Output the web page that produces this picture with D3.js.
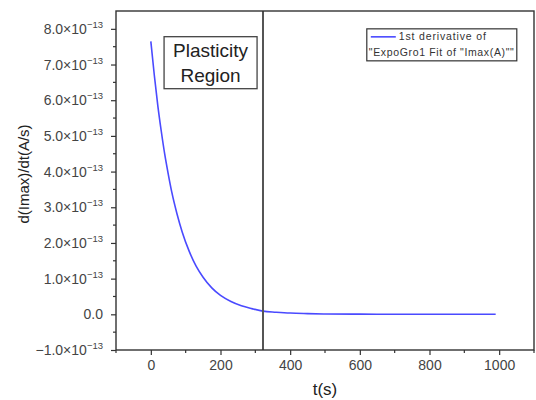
<!DOCTYPE html>
<html>
<head>
<meta charset="utf-8">
<script src="https://cdn.jsdelivr.net/npm/d3@7/dist/d3.min.js"></script>
<style>
  body { margin: 0; background: #fff; }
  text { font-family: "Liberation Sans", Arial, sans-serif; }
</style>
</head>
<body>
<div id="chart"></div>
<script>
// values (y in units of 1e-13 A/s)
const tValues = [0, 10, 20, 30, 40, 50, 60, 75, 90, 110, 130, 150, 175, 200, 230, 260, 290, 322, 360, 400, 450, 500, 600, 700, 800, 900, 990];
const dValues = [7.65, 6.70, 5.85, 5.13, 4.48, 3.93, 3.43, 2.82, 2.31, 1.77, 1.35, 1.04, 0.74, 0.53, 0.36, 0.24, 0.16, 0.09, 0.06, 0.035, 0.02, 0.01, 0.004, 0.002, 0.001, 0, 0];
const xTicks = [0, 200, 400, 600, 800, 1000];
const yTicks = [-1, 0, 1, 2, 3, 4, 5, 6, 7, 8];
const boundaryT = 322;
const legendLines = ["1st derivative of", "\"ExpoGro1 Fit of \"Imax(A)\"\""];

const margin = { top: 11, right: 2, bottom: 50, left: 116 };
const width = 536 - margin.left - margin.right;
const height = 400 - margin.top - margin.bottom;

const svg = d3.select("#chart")
  .append("svg")
  .attr("width", 536)
  .attr("height", 400);

const g = svg.append("g")
  .attr("transform", `translate(${margin.left},${margin.top})`);

const x = d3.scaleLinear().domain([-100, 1100]).range([0, width]);
const y = d3.scaleLinear().domain([-1, 8.5]).range([height, 0]);

// Axes: major + minor ticks
const tickColor = "#333";
const xMinor = d3.range(-100, 1101, 100).filter(v => !xTicks.includes(v));
const yMinor = d3.range(-0.5, 8.5, 1);

const xAxis = g.append("g")
  .attr("transform", `translate(0,${height})`)
  .call(d3.axisBottom(x).tickValues(xTicks).tickSize(5).tickPadding(5).tickFormat(d3.format("d")));
xAxis.select(".domain").remove();
xAxis.selectAll("line").attr("stroke", tickColor).attr("stroke-width", 1.2);
xAxis.selectAll("text").attr("font-size", 14).attr("fill", "#444")
  .attr("font-family", "Liberation Sans, Arial, sans-serif");

g.append("g")
  .selectAll("line")
  .data(xMinor)
  .enter()
  .append("line")
  .attr("x1", d => x(d)).attr("x2", d => x(d))
  .attr("y1", height).attr("y2", height + 3)
  .attr("stroke", tickColor).attr("stroke-width", 1.2);

const yAxis = g.append("g")
  .call(d3.axisLeft(y).tickValues(yTicks).tickSize(5).tickFormat(""));
yAxis.select(".domain").remove();
yAxis.selectAll("line").attr("stroke", tickColor).attr("stroke-width", 1.2);

g.append("g")
  .selectAll("line")
  .data(yMinor)
  .enter()
  .append("line")
  .attr("x1", -3).attr("x2", 0)
  .attr("y1", d => y(d)).attr("y2", d => y(d))
  .attr("stroke", tickColor).attr("stroke-width", 1.2);

// y tick labels in Origin style: 8.0x10^-13
const yLab = g.append("g")
  .selectAll("text")
  .data(yTicks)
  .enter()
  .append("text")
  .attr("x", -13)
  .attr("y", d => y(d) + 5)
  .attr("text-anchor", "end")
  .attr("font-size", 14)
  .attr("fill", "#444");

yLab.each(function(d) {
  const t = d3.select(this);
  if (d === 0) {
    t.text("0.0");
    return;
  }
  t.append("tspan").text(d3.format(".1f")(d).replace("-", "\u2212") + "\u00d710");
  t.append("tspan").attr("font-size", 9.5).attr("dy", -6).text("\u221213");
});

// Curve
const points = tValues.map((t, i) => ({ t, v: dValues[i] }));
const line = d3.line()
  .x(d => x(d.t))
  .y(d => y(d.v))
  .curve(d3.curveMonotoneX);

g.append("path")
  .datum(points)
  .attr("fill", "none")
  .attr("stroke", "#4a4aff")
  .attr("stroke-width", 1.6)
  .attr("d", line);

// Boundary line of the plasticity region
g.append("line")
  .attr("x1", x(boundaryT)).attr("x2", x(boundaryT))
  .attr("y1", 0).attr("y2", height)
  .attr("stroke", "#555")
  .attr("stroke-width", 2);

// Frame
g.append("rect")
  .attr("width", width)
  .attr("height", height)
  .attr("fill", "none")
  .attr("stroke", tickColor)
  .attr("stroke-width", 1.4);

// "Plasticity Region" box
const box = g.append("g").attr("transform", `translate(${x(38)},${y(7.78)})`);
box.append("rect")
  .attr("width", 93).attr("height", 52)
  .attr("fill", "#fff")
  .attr("stroke", "#444")
  .attr("stroke-width", 1.3);
box.append("text")
  .attr("x", 46.5).attr("y", 20)
  .attr("text-anchor", "middle")
  .attr("font-size", 19)
  .attr("fill", "#222")
  .text("Plasticity");
box.append("text")
  .attr("x", 46.5).attr("y", 45)
  .attr("text-anchor", "middle")
  .attr("font-size", 19)
  .attr("fill", "#222")
  .text("Region");

// Legend
const legend = g.append("g").attr("transform", `translate(${x(620)},${y(8.0)})`);
legend.append("rect")
  .attr("width", 150).attr("height", 32)
  .attr("fill", "#fff")
  .attr("stroke", "#333")
  .attr("stroke-width", 1.2);
legend.append("line")
  .attr("x1", 4).attr("x2", 29)
  .attr("y1", 8).attr("y2", 8)
  .attr("stroke", "#4a4aff")
  .attr("stroke-width", 1.6);
legend.append("text")
  .attr("x", 32).attr("y", 11.5)
  .attr("font-size", 10.5)
  .attr("fill", "#333")
  .attr("textLength", 87)
  .text(legendLines[0]);
legend.append("text")
  .attr("x", 2).attr("y", 27)
  .attr("font-size", 10.5)
  .attr("fill", "#333")
  .attr("textLength", 145)
  .text(legendLines[1]);

// Axis titles
svg.append("text")
  .attr("x", margin.left + width / 2)
  .attr("y", 395)
  .attr("text-anchor", "middle")
  .attr("font-size", 17)
  .attr("fill", "#222")
  .text("t(s)");

svg.append("text")
  .attr("transform", "translate(29,174) rotate(-90)")
  .attr("text-anchor", "middle")
  .attr("font-size", 15)
  .attr("fill", "#222")
  .text("d(Imax)/dt(A/s)");
</script>
</body>
</html>
